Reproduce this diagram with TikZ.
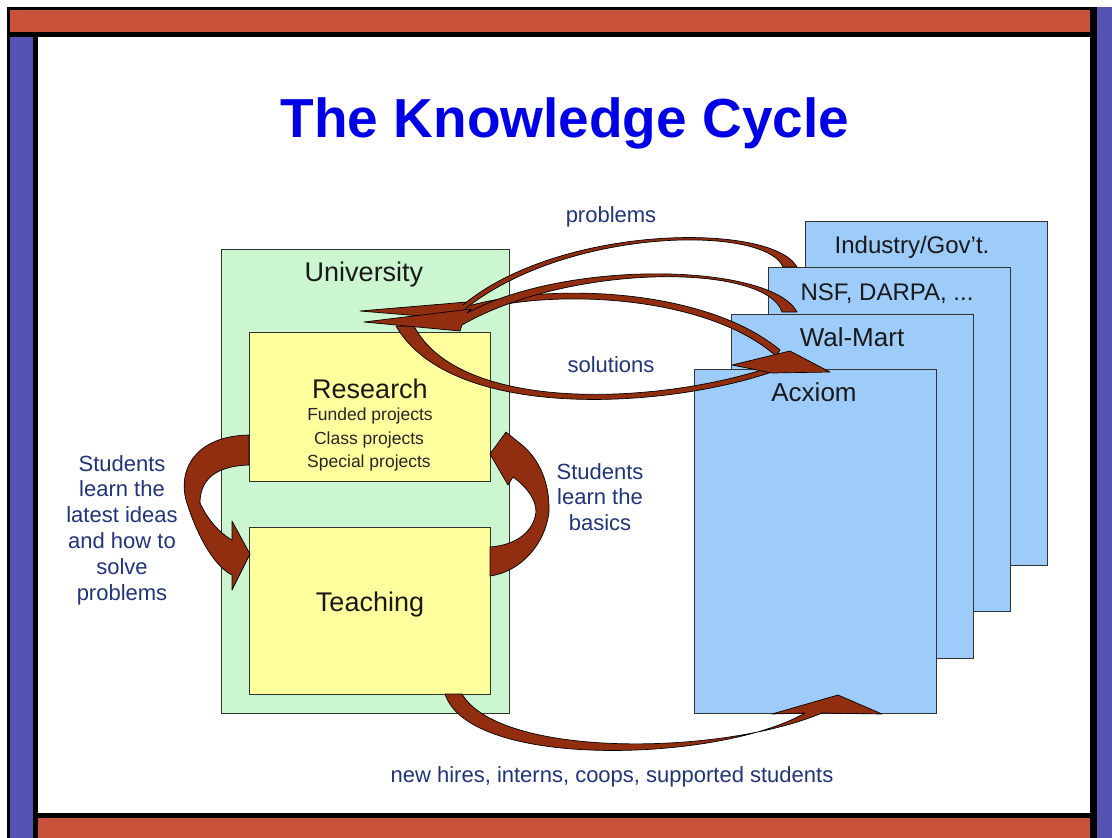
\documentclass[tikz,border=0pt]{standalone}
\usepackage{fontspec}
\setmainfont{Liberation Sans}

\definecolor{framered}{RGB}{200,82,58}
\definecolor{frameblue}{RGB}{84,84,178}
\definecolor{unigreen}{RGB}{204,246,208}
\definecolor{boxyellow}{RGB}{255,255,158}
\definecolor{partnerblue}{RGB}{158,204,250}
\definecolor{arrowbrown}{RGB}{146,46,16}
\definecolor{labelblue}{RGB}{32,52,122}
\definecolor{titleblue}{RGB}{0,0,230}

\tikzset{
  plainbox/.style={draw=black!80, line width=0.8pt, inner sep=0pt},
  projbox/.style={plainbox, fill=boxyellow, minimum width=241pt},
  partner/.style={plainbox, fill=partnerblue, minimum width=242pt, minimum height=344pt},
  bigarrow/.style={fill=arrowbrown, draw=black, line width=0.7pt, line join=round},
  boxtext/.style={text=black!90, font=\fontsize{27}{30}\selectfont, inner sep=0pt},
  smalltext/.style={text=black!85, font=\fontsize{17.5}{20}\selectfont, inner sep=0pt},
  lbl/.style={text=labelblue, font=\fontsize{22}{25.8}\selectfont, align=center, inner sep=0pt},
}

\begin{document}
\begin{tikzpicture}[x=1pt,y=-1pt]
\useasboundingbox (0,0) rectangle (1112,838);

% slide frame
\fill[white] (0,0) rectangle (1112,838);
\fill[black] (7,7) rectangle (1097,37);
\fill[framered] (10,10) rectangle (1090,32);
\fill[black] (7,37) rectangle (38,838);
\fill[frameblue] (10,37) rectangle (33,838);
\fill[black] (1090,7) rectangle (1097,838);
\fill[frameblue] (1097,7) rectangle (1112,838);
\fill[black] (38,813) rectangle (1090,818);
\fill[framered] (38,818) rectangle (1090,838);

\node[text=titleblue, font=\bfseries\fontsize{55}{60}\selectfont, anchor=base] (title) at (565,137) {The Knowledge Cycle};

% university side
\node[plainbox, fill=unigreen, minimum width=288pt, minimum height=464pt] (univ) at (365,481) {};
\node[projbox, minimum height=149pt] (research) at (369.5,406.5) {};
\node[projbox, minimum height=167pt] (teaching) at (369.5,610.5) {};

\node[boxtext, anchor=base] (univlbl) at (364,281) {University};
\node[boxtext, anchor=base] (reslbl) at (370,398) {Research};
\node[smalltext, anchor=base] (funded) at (370,420) {Funded projects};
\node[smalltext, anchor=base] (classp) at (369,444) {Class projects};
\node[smalltext, anchor=base] (special) at (369,467) {Special projects};
\node[boxtext, anchor=base] (teachlbl) at (370,611) {Teaching};

% partners, back to front
\foreach \name/\cx/\cy in {industry/926/393.5, nsf/889/439.5, walmart/852/486, acxiom/815/541.5}
  \node[partner] (\name) at (\cx,\cy) {};

\node[boxtext, font=\fontsize{24}{28}\selectfont, anchor=base] (indlbl) at (912,253) {Industry/Gov’t.};
\node[boxtext, font=\fontsize{24}{28}\selectfont, anchor=base] (nsflbl) at (887,300) {NSF, DARPA, ...};
\node[boxtext, font=\fontsize{26}{28}\selectfont, anchor=base] (wallbl) at (852,346) {Wal-Mart};
\node[boxtext, font=\fontsize{26}{28}\selectfont, anchor=base] (acxlbl) at (814,401) {Acxiom};

% labels
\node[lbl, anchor=base] (problems) at (611,222) {problems};
\node[lbl, anchor=base] (solutions) at (611,372) {solutions};
\node[lbl] (latest) at (122,530) {Students\\learn the\\latest ideas\\and how to\\solve\\problems};
\node[lbl] (basics) at (600,497) {Students\\learn the\\basics};
\node[lbl, anchor=base] (hires) at (612,782) {new hires, interns, coops, supported students};

% solutions: two arcs into one head
\draw[bigarrow] (440,316) .. controls (520,280) and (700,283) .. (780,350)
  -- (776,356) .. controls (700,289) and (520,286) .. (446,321) -- cycle;
\draw[bigarrow] (396,326) .. controls (450,420) and (660,410) .. (772,372)
  -- (774,366) .. controls (660,405) and (460,414) .. (414,326) -- cycle;
\draw[bigarrow] (732,365) -- (790,351) -- (830,372) -- (772,373) -- cycle;

% problems
\draw[bigarrow] (797,267) .. controls (772,222) and (560,224) .. (463,305)
  -- (467,302) -- (360,311) -- (457,319) -- (459,314)
  .. controls (560,227) and (765,224) .. (783,267) -- cycle;
\draw[bigarrow] (797,312) .. controls (772,264) and (570,258) .. (467,313)
  -- (471,309) -- (364,322) -- (460,331) -- (462,325)
  .. controls (570,263) and (766,263) .. (782,312) -- cycle;

% research -> teaching
\draw[bigarrow] (249,435) .. controls (195,436) and (178,470) .. (186,500)
  .. controls (195,530) and (212,565) .. (232,575)
  -- (232,590) -- (250,554) -- (232,521) -- (232,540)
  .. controls (218,532) and (207,518) .. (200,503)
  .. controls (200,480) and (215,466) .. (249,465) -- cycle;

% teaching -> research
\draw[bigarrow] (490,576) .. controls (520,572) and (545,545) .. (549,512)
  .. controls (550,480) and (537,455) .. (517,441)
  -- (506,432) -- (490,454) -- (508,485) -- (513,477)
  .. controls (528,488) and (536,500) .. (536,512)
  .. controls (534,530) and (518,545) .. (490,547) -- cycle;

% teaching -> partners
\draw[bigarrow] (445,694) .. controls (470,770) and (720,762) .. (805,713)
  -- (772,714) -- (838,695) -- (882,714) -- (822,713)
  .. controls (720,756) and (500,758) .. (462,694) -- cycle;
\end{tikzpicture}
\end{document}
